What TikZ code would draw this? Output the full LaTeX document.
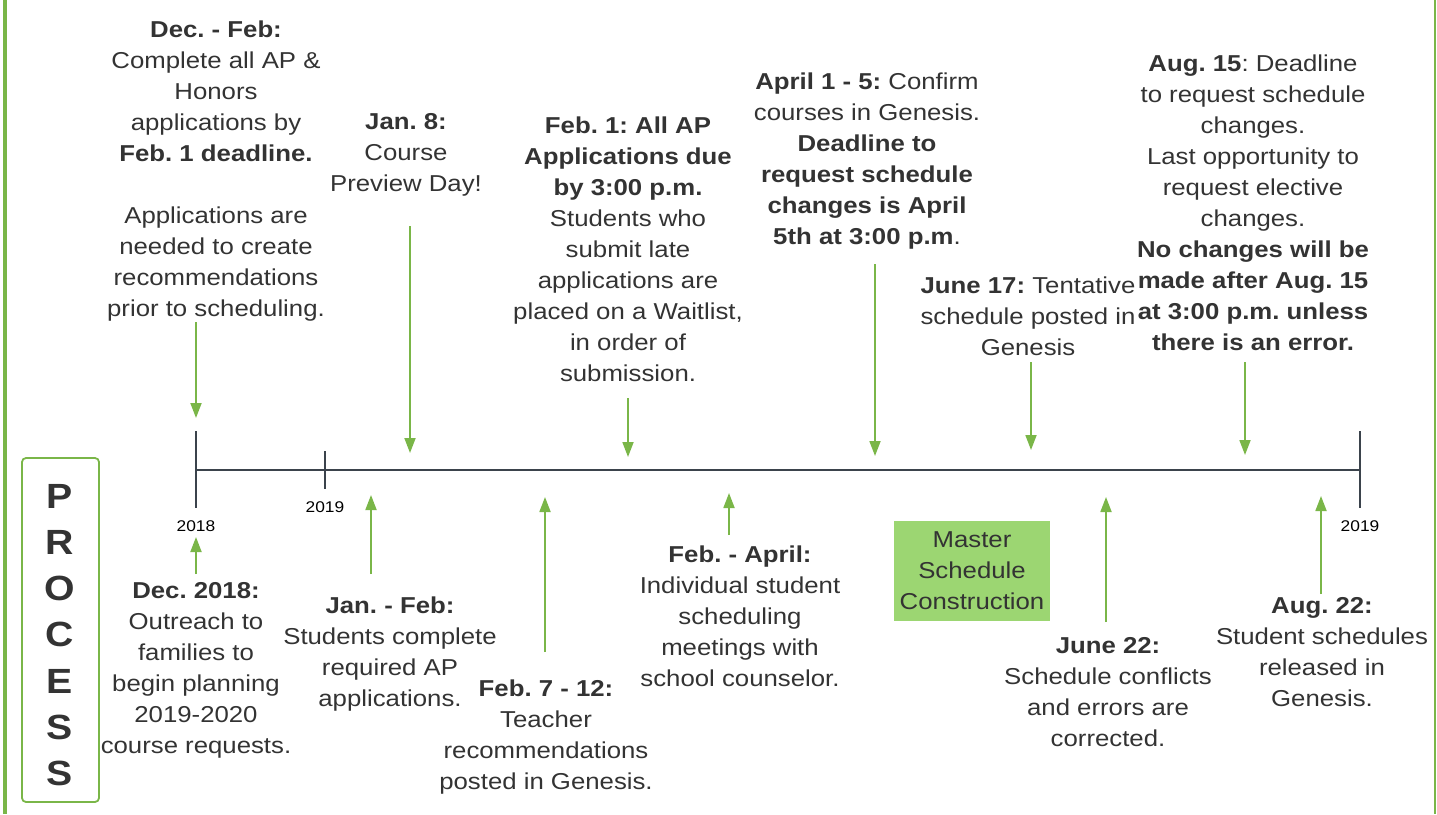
\documentclass[tikz,border=0pt]{standalone}
\usepackage{fontspec}
\setmainfont[FakeStretch=1.12]{Liberation Sans}
\frenchspacing
\usetikzlibrary{arrows.meta}
\definecolor{leaf}{HTML}{7AB648}
\definecolor{ink}{HTML}{333333}
\definecolor{slate}{HTML}{3B434C}
\definecolor{boxfill}{HTML}{9CD672}
\tikzset{
    note/.style={font=\fontsize{23}{31}\selectfont, text=ink, align=center, inner sep=0pt, anchor=north},
    year/.style={font=\fontsize{15.5}{18}\selectfont, text=black, inner sep=0pt},
    pin/.style={draw=leaf, line width=1.8pt, -{Triangle[length=15pt, width=11pt]}},
}
\begin{document}
\begin{tikzpicture}[x=1pt, y=-1pt]
        \useasboundingbox (0, 0) rectangle (1437, 814);
        \draw[leaf, line width=4pt] (4.7, 0) -- (4.7, 814);
        \draw[leaf, line width=1.2pt] (1435, 0) -- (1435, 814);

        \coordinate (start) at (196, 470);
        \coordinate (stop) at (1360, 470);
        \draw[slate, line width=2pt] (start) -- (stop);
        \draw[slate, line width=1.6pt] (196, 431) -- (196, 508);
        \draw[slate, line width=1.6pt] (325, 451) -- (325, 489);
        \draw[slate, line width=1.6pt] (1360, 431) -- (1360, 508);
        \node[year] (y2018) at (196, 526) {2018};
        \node[year] (y2019) at (325, 507) {2019};
        \node[year] (y2019b) at (1360, 526) {2019};

        \node[draw=leaf, line width=1.8pt, rounded corners=4pt, minimum width=77pt, minimum height=344pt] (process) at (60.5, 630) {};
        \foreach \l [count=\i] in {P, R, O, C, E, S, S}
            \node[font=\bfseries\fontsize{35}{35}\selectfont, text=ink, inner sep=0pt] (letter\i) at (60, 449.7+46.3*\i) {\l};

        \node[note, anchor=center, fill=boxfill, minimum width=156pt, minimum height=100pt] (master) at (972, 571) {Master\\Schedule\\Construction};

        \node[note] (decfeb) at (216, 21) {\textbf{Dec. - Feb:}\\Complete all AP \&\\Honors\\applications by\\\textbf{Feb. 1 deadline.}\\[31pt]Applications are\\needed to create\\recommendations\\prior to scheduling.};
        \node[note] (jan8) at (406, 113) {\textbf{Jan. 8:}\\Course\\Preview Day!};
        \node[note] (feb1) at (628, 117) {\textbf{Feb. 1: All AP}\\\textbf{Applications due}\\\textbf{by 3:00 p.m.}\\Students who\\submit late\\applications are\\placed on a Waitlist,\\in order of\\submission.};
        \node[note] (apr) at (867, 73) {\textbf{April 1 - 5:} Confirm\\courses in Genesis.\\\textbf{Deadline to}\\\textbf{request schedule}\\\textbf{changes is April}\\\textbf{5th at 3:00 p.m}.};
        \node[note] (jun17) at (1028, 277) {\textbf{June 17:} Tentative\\schedule posted in\\Genesis};
        \node[note] (aug15) at (1253, 55) {\textbf{Aug. 15}: Deadline\\to request schedule\\changes.\\Last opportunity to\\request elective\\changes.\\\textbf{No changes will be}\\\textbf{made after Aug. 15}\\\textbf{at 3:00 p.m. unless}\\\textbf{there is an error.}};

        \node[note] (dec18) at (196, 582) {\textbf{Dec. 2018:}\\Outreach to\\families to\\begin planning\\2019-2020\\course requests.};
        \node[note] (janfeb) at (390, 597) {\textbf{Jan. - Feb:}\\Students complete\\required AP\\applications.};
        \node[note] (feb712) at (546, 680) {\textbf{Feb. 7 - 12:}\\Teacher\\recommendations\\posted in Genesis.};
        \node[note] (febapr) at (740, 546) {\textbf{Feb. - April:}\\Individual student\\scheduling\\meetings with\\school counselor.};
        \node[note] (jun22) at (1108, 637) {\textbf{June 22:}\\Schedule conflicts\\and errors are\\corrected.};
        \node[note] (aug22) at (1322, 597) {\textbf{Aug. 22:}\\Student schedules\\released in\\Genesis.};

        \foreach \n/\x/\a/\b in {d1/196/322/418, d2/410/226/453, d3/628/398/457, d4/875/264/456, d5/1031/362/450, d6/1245/362/455,
                                 u1/196/574/537, u2/371/574/495, u3/545/652/497, u4/729/535/493, u5/1106/622/497, u6/1321/594/496} {
            \coordinate (s\n) at (\x, \a);
            \coordinate (e\n) at (\x, \b);
            \draw[pin] (s\n) -- (e\n);
        }
\end{tikzpicture}
\end{document}
